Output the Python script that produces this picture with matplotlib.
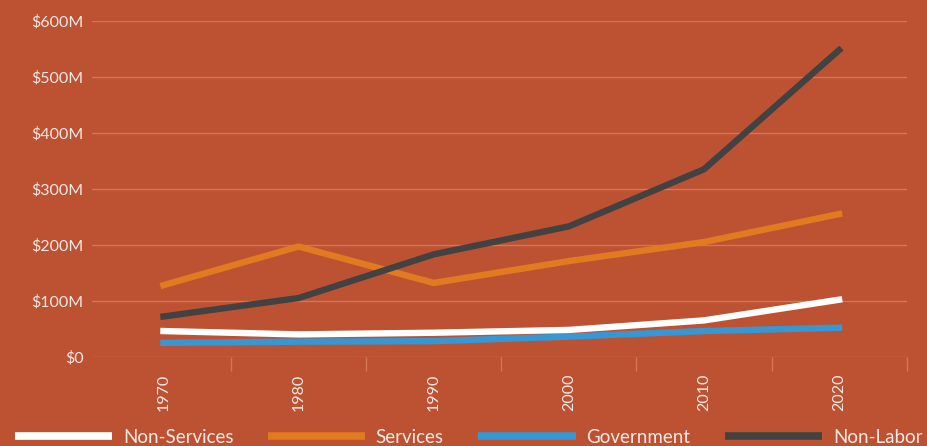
import matplotlib.pyplot as plt
from matplotlib.ticker import FuncFormatter, MultipleLocator

# Values in millions of dollars
years = ['1970', '1980', '1990', '2000', '2010', '2020']
non_services = [46, 40, 43, 48, 65, 102]
services = [128, 197, 132, 171, 205, 255]
government = [25, 27, 28, 36, 46, 52]
non_labor = [72, 105, 183, 233, 335, 548]

bg = '#BD5233'
grid_c = '#D27558'
text_c = '#F7E9E4'

plt.rcParams['font.family'] = ['Lato', 'DejaVu Sans']

fig = plt.figure(figsize=(9.28, 4.46), dpi=100, facecolor=bg)
ax = fig.add_axes([0.099, 0.2, 0.878, 0.753], facecolor=bg)

x = range(len(years))
lw = 4.6
ax.plot(x, non_services, color='white', lw=lw, label='Non-Services', zorder=3)
ax.plot(x, services, color='#E27A20', lw=lw, label='Services', zorder=2)
ax.plot(x, government, color='#3598D4', lw=lw, label='Government', zorder=2.5)
ax.plot(x, non_labor, color='#424242', lw=lw, label='Non-Labor', zorder=2)

ax.set_ylim(0, 600)
ax.set_xlim(-0.53, 5.5)
ax.yaxis.set_major_locator(MultipleLocator(100))
ax.yaxis.set_major_formatter(FuncFormatter(lambda v, p: '$0' if v == 0 else f'${v:.0f}M'))
ax.grid(axis='y', color=grid_c, lw=1)
ax.set_axisbelow(True)
for s in ax.spines.values():
    s.set_visible(False)

ax.set_xticks(list(x))
ax.set_xticklabels(years, rotation=90)
ax.set_xticks([i + 0.5 for i in x], minor=True)
ax.tick_params(axis='x', which='major', length=0, pad=12, colors=text_c, labelsize=11.5)
ax.tick_params(axis='x', which='minor', length=10, width=1, color=grid_c)
ax.tick_params(axis='y', length=0, pad=6, colors=text_c, labelsize=11.5)

leg = fig.legend(loc='center', bbox_to_anchor=(0.505, 0.02), ncol=4, frameon=False,
                 handlelength=5.2, handletextpad=0.55, columnspacing=1.85, fontsize=13.5)
for t in leg.get_texts():
    t.set_color(text_c)
for h in leg.get_lines():
    h.set_linewidth(5.5)
    h.set_solid_capstyle('butt')

plt.savefig('out.png', dpi=100, facecolor=bg)
